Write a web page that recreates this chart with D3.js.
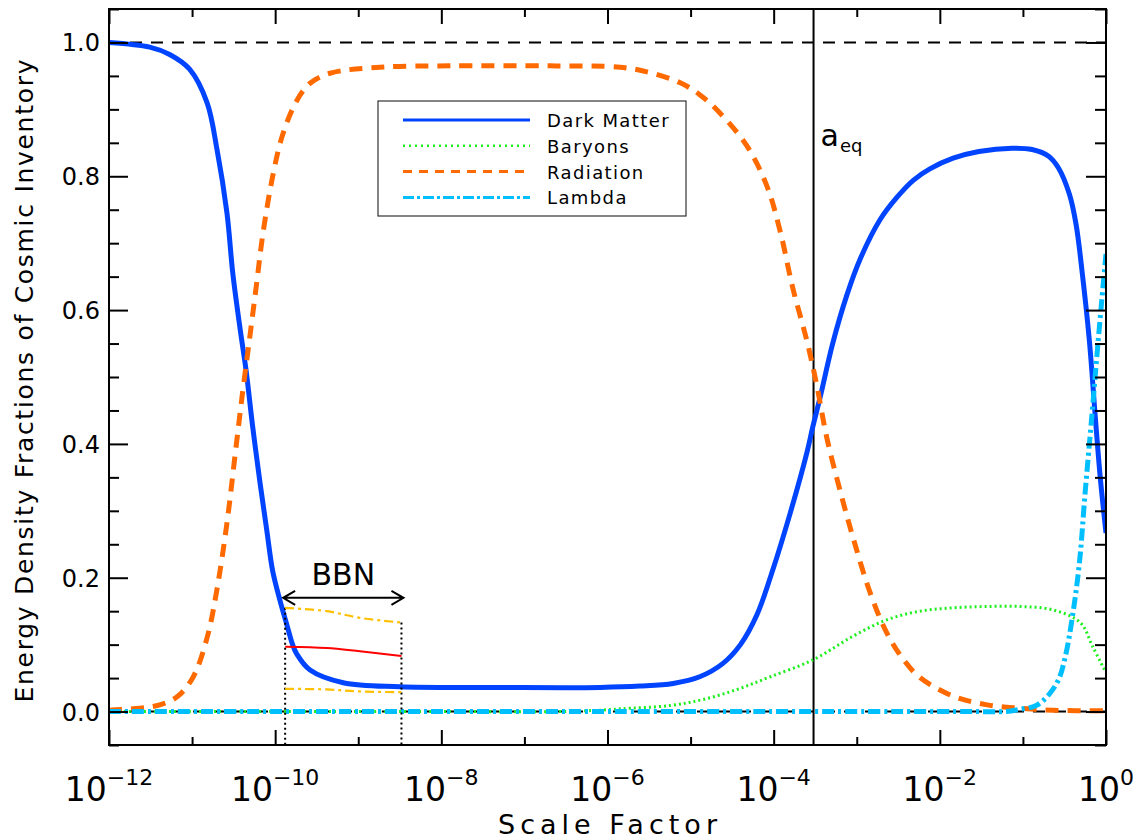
<!DOCTYPE html>
<html>
<head>
<meta charset="utf-8">
<script src="https://cdn.jsdelivr.net/npm/d3@7"></script>
<style>
  body { margin: 0; background: #fff; }
  text { font-family: 'DejaVu Sans', sans-serif; fill: #000; }
</style>
</head>
<body>
<div id="chart"></div>
<script>
// [log10(scale factor), energy density fraction]
const darkMatter = [
  [-12.00, 1.000], [-11.51, 0.993], [-11.27, 0.982], [-11.03, 0.960], [-10.82, 0.910],
  [-10.70, 0.840], [-10.58, 0.745], [-10.51, 0.655], [-10.42, 0.570], [-10.35, 0.510],
  [-10.27, 0.425], [-10.18, 0.340], [-10.10, 0.270], [-10.03, 0.210], [-9.94, 0.165],
  [-9.86, 0.130], [-9.79, 0.100], [-9.74, 0.086], [-9.58, 0.062], [-9.18, 0.043],
  [-8.50, 0.037], [-7.29, 0.036], [-6.09, 0.036], [-5.61, 0.038], [-5.21, 0.042],
  [-4.89, 0.052], [-4.61, 0.072], [-4.40, 0.100], [-4.20, 0.145], [-4.01, 0.212],
  [-3.80, 0.297], [-3.60, 0.387], [-3.53, 0.425], [-3.44, 0.470], [-3.29, 0.550],
  [-3.12, 0.622], [-2.96, 0.676], [-2.72, 0.735], [-2.52, 0.768], [-2.32, 0.794],
  [-2.12, 0.811], [-1.84, 0.827], [-1.53, 0.837], [-1.13, 0.842], [-0.89, 0.840],
  [-0.69, 0.830], [-0.57, 0.812], [-0.44, 0.773], [-0.36, 0.728], [-0.29, 0.660],
  [-0.20, 0.554], [-0.13, 0.442], [-0.07, 0.351], [0.00, 0.267]
];
const baryons = [
  [-12.00, 0.000], [-10.00, 0.000], [-8.00, 0.000], [-6.60, 0.000], [-6.09, 0.002],
  [-5.85, 0.004], [-5.25, 0.009], [-4.85, 0.018], [-4.44, 0.033], [-4.04, 0.052],
  [-3.53, 0.077], [-3.04, 0.113], [-2.64, 0.137], [-2.24, 0.150], [-1.84, 0.155],
  [-1.44, 0.157], [-1.03, 0.157], [-0.64, 0.152], [-0.31, 0.133], [-0.16, 0.097],
  [0.00, 0.058]
];
const radiation = [
  [-12.00, 0.002], [-11.63, 0.005], [-11.39, 0.010], [-11.18, 0.022], [-10.99, 0.051],
  [-10.82, 0.110], [-10.70, 0.183], [-10.58, 0.282], [-10.48, 0.386], [-10.39, 0.479],
  [-10.30, 0.565], [-10.22, 0.643], [-10.15, 0.712], [-10.03, 0.800], [-9.91, 0.862],
  [-9.74, 0.913], [-9.58, 0.939], [-9.34, 0.954], [-8.74, 0.963], [-7.90, 0.965],
  [-6.69, 0.965], [-5.85, 0.963], [-5.49, 0.955], [-5.13, 0.940], [-4.89, 0.922],
  [-4.65, 0.895], [-4.32, 0.845], [-4.08, 0.785], [-3.92, 0.717], [-3.77, 0.633],
  [-3.60, 0.554], [-3.48, 0.487], [-3.36, 0.409], [-3.20, 0.330], [-3.04, 0.258],
  [-2.84, 0.178], [-2.64, 0.118], [-2.44, 0.078], [-2.24, 0.051], [-1.84, 0.023],
  [-1.43, 0.010], [-1.03, 0.005], [-0.64, 0.002], [0.00, 0.001]
];
const lambda = [
  [-12.00, 0.000], [-10.00, 0.000], [-8.00, 0.000], [-6.00, 0.000], [-4.00, 0.000],
  [-2.50, 0.000], [-1.60, 0.000], [-1.20, 0.000], [-1.05, 0.003], [-0.84, 0.009],
  [-0.69, 0.025], [-0.57, 0.048], [-0.49, 0.082], [-0.41, 0.137], [-0.32, 0.222],
  [-0.25, 0.329], [-0.17, 0.442], [-0.11, 0.531], [-0.05, 0.616], [0.00, 0.684]
];

// BBN window and predicted band (log10 a, fraction)
const bbnRange = [-9.88, -8.48];
const bbnArrowLevel = 0.170;
const bbnUpper = [[-9.88, 0.155], [-9.38, 0.150], [-8.98, 0.140], [-8.48, 0.133]];
const bbnCentral = [[-9.88, 0.097], [-9.38, 0.095], [-8.98, 0.090], [-8.48, 0.083]];
const bbnLower = [[-9.88, 0.034], [-9.38, 0.033], [-8.98, 0.030], [-8.48, 0.029]];

const logAEq = -3.52;
const referenceLevels = [0, 1];

const seriesNames = ['Dark Matter', 'Baryons', 'Radiation', 'Lambda'];
const xMajorExp = [-12, -10, -8, -6, -4, -2, 0];
const xMinorExp = [-11, -9, -7, -5, -3, -1];
const yMajor = [0, 0.2, 0.4, 0.6, 0.8, 1.0];
const yMinor = [-0.05, 0.05, 0.1, 0.15, 0.25, 0.3, 0.35, 0.45, 0.5, 0.55, 0.65, 0.7, 0.75, 0.85, 0.9, 0.95, 1.05];

const width = 1139;
const height = 840;
const margin = { top: 9, right: 33, bottom: 95, left: 109 };

const styles = {
  'Dark Matter': { color: '#0044ff', width: 5, dash: null, lw: 3, ldash: null },
  'Baryons': { color: '#1ef01e', width: 3, dash: '2,3', lw: 2.5, ldash: '2,4' },
  'Radiation': { color: '#ff6a00', width: 5, dash: '13,9', lw: 3, ldash: '9,7' },
  'Lambda': { color: '#00bfff', width: 5, dash: '12,4,3,4', lw: 3, ldash: '11,3,3,3' }
};

const svg = d3.select('#chart')
  .append('svg')
  .attr('width', width)
  .attr('height', height);

svg.append('rect').attr('width', width).attr('height', height).attr('fill', '#fff');

const x = d3.scaleLog()
  .domain([1e-12, 1])
  .range([margin.left, width - margin.right]);

const y = d3.scaleLinear()
  .domain([-0.05, 1.05])
  .range([height - margin.bottom, margin.top]);

const X = e => x(Math.pow(10, e));

svg.append('clipPath').attr('id', 'plot')
  .append('rect')
  .attr('x', margin.left).attr('y', margin.top)
  .attr('width', width - margin.left - margin.right)
  .attr('height', height - margin.top - margin.bottom);

const plot = svg.append('g').attr('clip-path', 'url(#plot)');

// dashed reference lines at 0 and 1
plot.selectAll('line.ref')
  .data(referenceLevels)
  .join('line')
  .attr('x1', margin.left).attr('x2', width - margin.right)
  .attr('y1', d => y(d)).attr('y2', d => y(d))
  .attr('stroke', '#000')
  .attr('stroke-width', 2)
  .attr('stroke-dasharray', '12,9');

// a_eq marker
plot.append('line')
  .attr('x1', X(logAEq)).attr('x2', X(logAEq))
  .attr('y1', margin.top).attr('y2', height - margin.bottom)
  .attr('stroke', '#000')
  .attr('stroke-width', 2);

const line = d3.line()
  .x(d => X(d[0]))
  .y(d => y(d[1]))
  .curve(d3.curveCatmullRom.alpha(0.5));

const seriesData = [darkMatter, radiation, baryons, lambda];
const seriesOrder = ['Dark Matter', 'Radiation', 'Baryons', 'Lambda'];

plot.selectAll('path.series')
  .data(seriesData)
  .join('path')
  .attr('class', 'series')
  .attr('d', line)
  .attr('fill', 'none')
  .attr('stroke', (d, i) => styles[seriesOrder[i]].color)
  .attr('stroke-width', (d, i) => styles[seriesOrder[i]].width)
  .attr('stroke-dasharray', (d, i) => styles[seriesOrder[i]].dash);

// BBN annotation
plot.selectAll('line.bbn')
  .data(bbnRange)
  .join('line')
  .attr('x1', d => X(d)).attr('x2', d => X(d))
  .attr('y1', (d, i) => y(i === 0 ? bbnUpper[0][1] : bbnUpper[bbnUpper.length - 1][1]))
  .attr('y2', height - margin.bottom)
  .attr('stroke', '#000')
  .attr('stroke-width', 2)
  .attr('stroke-dasharray', '2,3');

plot.append('path').attr('d', line(bbnUpper)).attr('fill', 'none')
  .attr('stroke', '#ffc000').attr('stroke-width', 2.2).attr('stroke-dasharray', '9,4,3,4');
plot.append('path').attr('d', line(bbnLower)).attr('fill', 'none')
  .attr('stroke', '#ffc000').attr('stroke-width', 2.2).attr('stroke-dasharray', '9,4,3,4');
plot.append('path').attr('d', line(bbnCentral)).attr('fill', 'none')
  .attr('stroke', '#ff0000').attr('stroke-width', 2);

const ax0 = X(bbnRange[0]) - 2, ax1 = X(bbnRange[1]) + 2, ay = y(bbnArrowLevel);
svg.append('path')
  .attr('d', `M${ax0},${ay}H${ax1}M${ax0 + 12},${ay - 7}L${ax0},${ay}L${ax0 + 12},${ay + 7}` +
             `M${ax1 - 12},${ay - 7}L${ax1},${ay}L${ax1 - 12},${ay + 7}`)
  .attr('fill', 'none')
  .attr('stroke', '#000')
  .attr('stroke-width', 2);

svg.append('text')
  .attr('x', (X(bbnRange[0]) + X(bbnRange[1])) / 2)
  .attr('y', ay - 13)
  .attr('text-anchor', 'middle')
  .attr('font-size', 30)
  .text('BBN');

const eqLabel = svg.append('text')
  .attr('x', X(logAEq) + 7)
  .attr('y', 146);
eqLabel.append('tspan').attr('font-size', 30).text('a');
eqLabel.append('tspan').attr('font-size', 18).attr('dx', 1).attr('dy', 6).text('eq');

// frame and ticks
svg.append('rect')
  .attr('x', margin.left).attr('y', margin.top)
  .attr('width', width - margin.left - margin.right)
  .attr('height', height - margin.top - margin.bottom)
  .attr('fill', 'none')
  .attr('stroke', '#000')
  .attr('stroke-width', 2);

function ticks(axis, transform) {
  svg.append('g')
    .attr('transform', transform)
    .call(axis)
    .call(g => g.select('.domain').remove())
    .call(g => g.selectAll('line').attr('stroke', '#000').attr('stroke-width', 2));
}

ticks(d3.axisBottom(x).tickValues(xMajorExp.map(e => Math.pow(10, e))).tickSize(-15).tickFormat(''),
  `translate(0,${height - margin.bottom})`);
ticks(d3.axisBottom(x).tickValues(xMinorExp.map(e => Math.pow(10, e))).tickSize(-8).tickFormat(''),
  `translate(0,${height - margin.bottom})`);
ticks(d3.axisTop(x).tickValues(xMajorExp.map(e => Math.pow(10, e))).tickSize(-15).tickFormat(''),
  `translate(0,${margin.top})`);
ticks(d3.axisTop(x).tickValues(xMinorExp.map(e => Math.pow(10, e))).tickSize(-8).tickFormat(''),
  `translate(0,${margin.top})`);
ticks(d3.axisLeft(y).tickValues(yMajor).tickSize(-19).tickFormat(''),
  `translate(${margin.left},0)`);
ticks(d3.axisLeft(y).tickValues(yMinor).tickSize(-10).tickFormat(''),
  `translate(${margin.left},0)`);
ticks(d3.axisRight(y).tickValues(yMajor).tickSize(-20).tickFormat(''),
  `translate(${width - margin.right},0)`);
ticks(d3.axisRight(y).tickValues(yMinor).tickSize(-11).tickFormat(''),
  `translate(${width - margin.right},0)`);

// tick labels
svg.selectAll('text.ylab')
  .data(yMajor)
  .join('text')
  .attr('class', 'ylab')
  .attr('x', margin.left - 9)
  .attr('y', d => y(d) + 9)
  .attr('text-anchor', 'end')
  .attr('font-size', 24)
  .text(d => d.toFixed(1));

const xl = svg.selectAll('text.xlab')
  .data(xMajorExp)
  .join('text')
  .attr('class', 'xlab')
  .attr('x', d => X(d))
  .attr('y', 801)
  .attr('text-anchor', 'middle');
xl.append('tspan').attr('font-size', 33).text('10');
xl.append('tspan').attr('font-size', 22).attr('dy', -16)
  .text(d => d === 0 ? '0' : '\u2212' + Math.abs(d));

svg.append('text')
  .attr('x', (margin.left + width - margin.right) / 2)
  .attr('y', 834)
  .attr('text-anchor', 'middle')
  .attr('font-size', 27)
  .attr('textLength', 219)
  .attr('lengthAdjust', 'spacing')
  .text('Scale Factor');

svg.append('text')
  .attr('transform', 'translate(33,381) rotate(-90)')
  .attr('text-anchor', 'middle')
  .attr('font-size', 25)
  .attr('textLength', 643)
  .attr('lengthAdjust', 'spacing')
  .text('Energy Density Fractions of Cosmic Inventory');

// legend
const legend = svg.append('g');
legend.append('rect')
  .attr('x', 378).attr('y', 101)
  .attr('width', 308).attr('height', 115)
  .attr('fill', '#fff')
  .attr('stroke', '#333')
  .attr('stroke-width', 1.2);

const rows = legend.selectAll('g.row')
  .data(seriesNames)
  .join('g')
  .attr('transform', (d, i) => `translate(0,${120 + i * 25.8})`);

rows.append('line')
  .attr('x1', 403).attr('x2', 530)
  .attr('stroke', d => styles[d].color)
  .attr('stroke-width', d => styles[d].lw)
  .attr('stroke-dasharray', d => styles[d].ldash);

rows.append('text')
  .attr('x', 547)
  .attr('y', 7)
  .attr('font-size', 18)
  .attr('letter-spacing', 1.4)
  .text(d => d);
</script>
</body>
</html>
